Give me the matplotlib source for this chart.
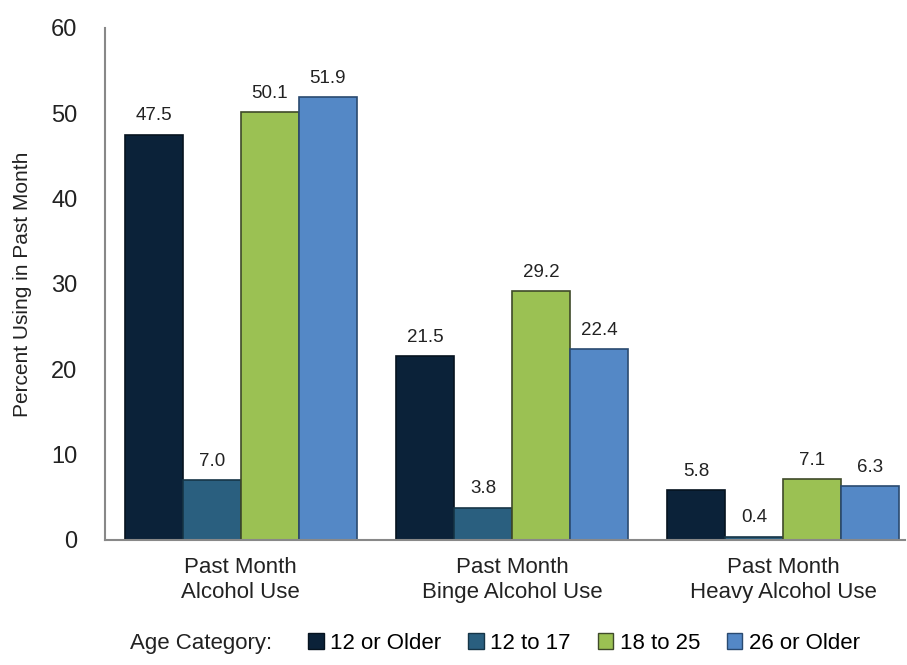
import numpy as np
import matplotlib
matplotlib.use('Agg')
import matplotlib.pyplot as plt
from matplotlib.patches import Patch

plt.rcParams['font.family'] = ['Liberation Sans', 'DejaVu Sans']

# data
categories = ['Past Month\nAlcohol Use', 'Past Month\nBinge Alcohol Use', 'Past Month\nHeavy Alcohol Use']
age_groups = ['12 or Older', '12 to 17', '18 to 25', '26 or Older']
older12 = [47.5, 21.5, 5.8]
age12_17 = [7.0, 3.8, 0.4]
age18_25 = [50.1, 29.2, 7.1]
older26 = [51.9, 22.4, 6.3]

colors = ['#0b2239', '#2a5f7f', '#9bc153', '#5488c6']
edges = ['#06131f', '#163547', '#3f4a2a', '#2a4a70']

fig = plt.figure(figsize=(9.07, 6.65), dpi=100)
ax = fig.add_axes([0.116, 0.188, 0.882, 0.77])

x = np.arange(len(categories))
width = 0.214
series = [older12, age12_17, age18_25, older26]
for i, vals in enumerate(series):
    pos = x + (i - 1.5) * width
    bars = ax.bar(pos, vals, width, color=colors[i], edgecolor=edges[i], linewidth=1.2)
    for b, v in zip(bars, vals):
        ax.text(b.get_x() + b.get_width() / 2, v + 1.2, '%.1f' % v,
                ha='center', va='bottom', fontsize=13.5, color='#222222')

ax.set_xlim(-0.5, 2.45)
ax.set_ylim(0, 60)
ax.set_yticks(range(0, 61, 10))
ax.set_xticks(x)
ax.set_xticklabels(categories, fontsize=16, color='#222222', linespacing=1.3)
ax.tick_params(axis='y', length=0, labelsize=17, pad=20, labelcolor='#222222')
ax.tick_params(axis='x', length=0, pad=12)
for s in ['top', 'right']:
    ax.spines[s].set_visible(False)
ax.spines['left'].set_color('#888888')
ax.spines['bottom'].set_color('#888888')
ax.spines['left'].set_linewidth(1.5)
ax.spines['bottom'].set_linewidth(1.5)
ax.set_ylabel('Percent Using in Past Month', fontsize=15, color='#222222', labelpad=14)

fig.text(0.143, 0.033, 'Age Category:', fontsize=16, color='#222222', va='center')
handles = [Patch(facecolor=colors[i], edgecolor=edges[i], label=age_groups[i]) for i in range(4)]
fig.legend(handles=handles, ncol=4, loc='center left', bbox_to_anchor=(0.33, 0.033),
           frameon=False, fontsize=16, handlelength=0.7, handleheight=0.7,
           handletextpad=0.3, columnspacing=1.2, borderaxespad=0)

fig.savefig('out.png', dpi=100)
